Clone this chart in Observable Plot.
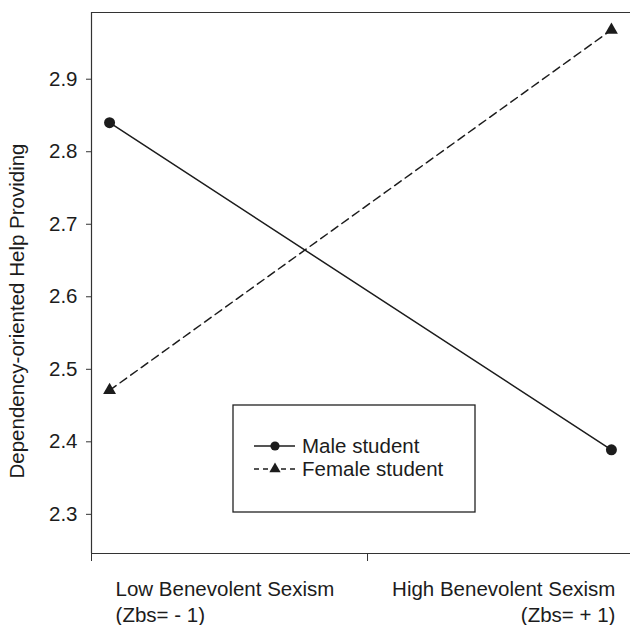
<!DOCTYPE html>
<html><head><meta charset="utf-8">
<script src="https://cdn.jsdelivr.net/npm/d3@7"></script>
<script src="https://cdn.jsdelivr.net/npm/@observablehq/plot@0.6"></script>
<style>body{margin:0;background:#fff} #chart{position:relative;width:630px;height:625px}</style>
</head><body><div id="chart"></div>
<script>
// ---- data ----
const groups = ["Male student", "Female student"];
const zbs = [-1, 1];
const maleValues = [2.84, 2.389];
const femaleValues = [2.471, 2.968];
const yTicks = [2.3, 2.4, 2.5, 2.6, 2.7, 2.8, 2.9];
const xLabelLow = "Low Benevolent Sexism\n(Zbs= - 1)";
const xLabelHigh = "High Benevolent Sexism\n(Zbs= + 1)";
const yLabel = "Dependency-oriented Help Providing";
const xTickMarks = [-1.072, 0.028];
const yDomain = [2.246, 2.992];
const xDomain = [-1.072, 1.076];

const male = zbs.map((x, i) => ({x, y: maleValues[i], group: groups[0]}));
const female = zbs.map((x, i) => ({x, y: femaleValues[i], group: groups[1]}));

const ink = "#1c1c1c";
const font = "'Liberation Sans', Arial, Helvetica, sans-serif";
const fs = 20.5;

const chart = Plot.plot({
  width: 630,
  height: 625,
  marginTop: 12,
  marginBottom: 72,
  marginLeft: 91,
  marginRight: 0,
  style: {fontFamily: font, fontSize: fs + "px", color: ink, background: "white", overflow: "visible"},
  x: {domain: xDomain, axis: null},
  y: {domain: yDomain, axis: null},
  marks: [
    Plot.ruleY([yDomain[1]], {stroke: "#333", strokeWidth: 1.2}),
    Plot.ruleY([yDomain[0]], {stroke: "#333", strokeWidth: 1.2}),
    Plot.ruleX([xDomain[0]], {stroke: "#333", strokeWidth: 1.2}),
    Plot.axisY({ticks: yTicks, tickSize: 5, tickPadding: 9, tickFormat: d3.format(".1f"), label: null, stroke: "#333", fontSize: fs, fill: ink}),
    Plot.axisX({ticks: xTickMarks, tickSize: 8, tickFormat: () => "", label: null, stroke: "#333"}),
    Plot.line(male, {x: "x", y: "y", stroke: ink, strokeWidth: 1.5}),
    Plot.line(female, {x: "x", y: "y", stroke: ink, strokeWidth: 1.5, strokeDasharray: "8,5"}),
    Plot.dot(male, {x: "x", y: "y", symbol: "circle", r: 5.5, fill: ink, stroke: "none"}),
    Plot.dot(female, {x: "x", y: "y", symbol: "triangle", r: 4.8, fill: ink, stroke: "none"}),
    Plot.text([xLabelLow], {x: () => zbs[0], frameAnchor: "bottom", text: d => d, textAnchor: "start", lineAnchor: "top", dx: 6, dy: 24, lineHeight: 1.27, fontSize: fs, fill: ink}),
    Plot.text([xLabelHigh], {x: () => zbs[1], frameAnchor: "bottom", text: d => d, textAnchor: "end", lineAnchor: "top", dx: 4, dy: 24, lineHeight: 1.27, fontSize: fs, fill: ink}),
    Plot.text([yLabel], {frameAnchor: "left", text: d => d, rotate: -90, textAnchor: "middle", dx: -74, dy: 28, fontSize: fs, fill: ink})
  ]
});
document.getElementById("chart").appendChild(chart);

// ---- legend (inside plot area) ----
const svg = d3.select(chart);
const lg = svg.append("g").attr("font-family", font).attr("font-size", fs).attr("fill", ink).attr("text-anchor", "start");
lg.append("rect").attr("x", 233).attr("y", 405).attr("width", 242).attr("height", 107)
  .attr("fill", "white").attr("stroke", "#222").attr("stroke-width", 1.3);
const rows = [
  {label: groups[0], dash: null, sym: d3.symbolCircle, size: Math.PI * 4.6 * 4.6},
  {label: groups[1], dash: "5,4", sym: d3.symbolTriangle, size: Math.PI * 4.2 * 4.2}
];
rows.forEach((r, i) => {
  const cy = 446 + i * 23;
  lg.append("line").attr("x1", 254).attr("x2", 295).attr("y1", cy).attr("y2", cy)
    .attr("stroke", ink).attr("stroke-width", 1.5).attr("stroke-dasharray", r.dash);
  lg.append("path").attr("d", d3.symbol(r.sym, r.size)()).attr("transform", `translate(275,${cy})`).attr("fill", ink);
  lg.append("text").attr("x", 302).attr("y", cy).attr("dy", "0.35em").attr("text-anchor", "start").text(r.label);
});
</script>
</body></html>
